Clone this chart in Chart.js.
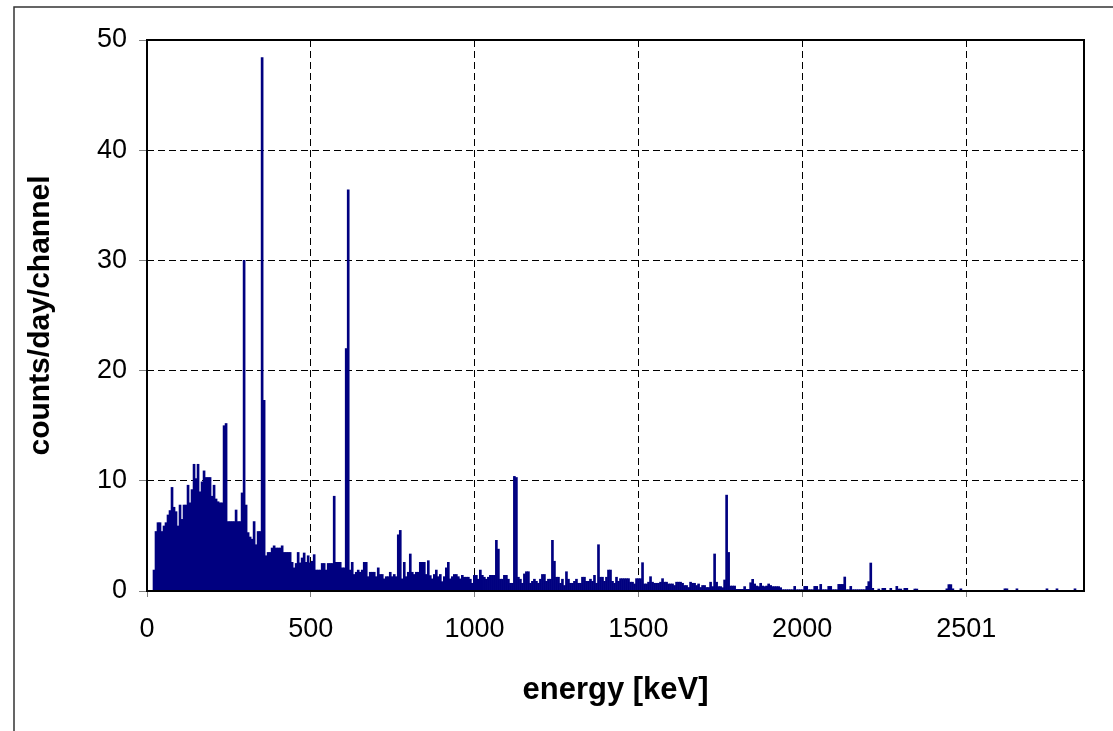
<!DOCTYPE html>
<html>
<head>
<meta charset="utf-8">
<script src="https://cdn.jsdelivr.net/npm/chart.js@4"></script>
<style>
html,body{margin:0;padding:0;background:#fff;}
#wrap{position:relative;width:1113px;height:731px;}
</style>
</head>
<body>
<div id="wrap"><canvas id="c" width="1113" height="731"></canvas></div>
<script>
// keV per channel
const channelWidthKeV = 6.112;

// counts/day/channel, one value per channel
const counts = [
  0,0,0,1.9,5.4,6.2,6.2,5.4,5.9,6.2, 6.9,7.3,9.4,7.6,7.2,5.9,7.8,6.5,7.8,7.8,
  9.6,8.0,9.2,11.5,10.2,11.5,9.0,9.9,10.9,10.3, 10.3,10.3,8.6,9.6,8.35,8.1,8.0,8.0,15.0,15.2,
  6.3,6.3,6.3,6.3,7.35,6.3,6.3,8.9,30.0,7.8, 5.3,4.9,4.7,6.3,4.2,5.4,5.4,48.4,17.3,3.2,
  3.5,3.5,3.9,4.1,3.9,3.9,3.9,4.1,3.5,3.5, 3.5,3.5,2.6,2.1,2.5,3.5,2.55,3.0,3.45,2.6,
  3.2,2.55,2.7,3.3,1.9,1.9,1.9,2.5,2.5,1.9, 2.5,2.5,2.5,8.6,2.6,2.6,2.6,2.1,2.1,22.0,
  36.4,1.9,2.6,1.5,1.7,1.9,1.7,1.9,2.6,2.6, 1.3,1.7,1.7,1.7,1.3,2.1,1.5,1.5,1.1,1.3,
  1.3,1.7,1.3,1.5,1.3,5.1,5.5,1.1,2.6,1.3, 1.7,3.36,1.7,1.5,1.7,1.7,2.6,2.6,2.6,1.5,
  2.75,1.4,1.1,1.5,1.9,1.3,1.5,0.85,1.3,2.1, 2.6,1.1,1.3,1.5,1.5,1.3,1.1,1.42,1.25,1.25,
  1.25,1.07,0.7,1.42,1.42,1.07,1.9,1.42,1.25,1.07, 1.25,1.42,1.42,1.42,4.6,3.8,1.07,1.07,1.42,1.42,
  1.07,0.7,0.7,10.4,10.3,1.25,1.07,0.7,1.55,1.75, 1.75,0.7,0.88,1.07,0.88,0.7,1.07,1.5,1.5,0.88,
  1.07,1.07,4.6,2.7,1.25,1.25,0.7,1.07,0.5,1.75, 1.07,0.7,0.7,0.88,1.07,0.7,0.7,1.25,1.25,0.88,
  0.88,1.07,0.88,1.42,0.7,4.2,1.25,1.25,0.88,1.25, 1.9,1.9,0.88,0.7,1.25,0.88,1.12,1.12,1.12,1.12,
  1.12,0.8,0.8,0.64,1.12,1.12,1.12,2.57,0.64,0.64, 0.8,1.3,0.8,0.7,0.7,0.7,0.8,1.12,0.8,0.8,
  0.64,0.64,0.64,0.5,0.8,0.8,0.8,0.7,0.5,0.5, 0.32,0.8,0.7,0.7,0.5,0.64,0.32,0.5,0.5,0.32,
  0.32,0.8,0.4,3.36,0.8,0.4,0.4,0.3,1.0,8.7, 3.5,0.45,0.45,0.45,0.15,0.15,0.15,0.15,0.4,0.15,
  0.15,0.75,1.06,0.64,0.45,0.4,0.7,0.45,0.4,0.45, 0.64,0.5,0.4,0.4,0.4,0.4,0.3,0.12,0.12,0.12,
  0.12,0.12,0.12,0.42,0.12,0.12,0.12,0.12,0.42,0.42, 0.12,0.12,0.12,0.42,0.42,0.12,0.6,0.12,0.12,0.12,
  0.42,0.42,0.12,0.12,0.12,0.6,0.6,0.6,1.27,0.12, 0.12,0.42,0.12,0.12,0.12,0.12,0.12,0.12,0.12,0.42,
  0.85,2.54,0.24,0,0,0.18,0,0.24,0.24,0, 0,0.24,0,0,0.42,0.18,0.18,0,0.24,0.24,
  0,0,0,0.18,0.18,0,0,0,0,0, 0,0,0,0,0,0,0,0,0,0.2,
  0.58,0.58,0.2,0,0,0,0.2,0,0,0, 0,0,0,0,0,0,0,0,0,0,
  0,0,0,0,0,0,0,0,0.2,0.2, 0,0,0,0,0.2,0,0,0,0,0,
  0,0,0,0,0,0,0,0,0,0.2, 0,0,0,0,0.2,0,0,0,0,0,
  0,0,0,0.2,0,0,0,0
];

// channel centre energies (keV)
const energies = counts.map((_, i) => (i + 0.5) * channelWidthKeV);

// axis tick labels
const xTickValues = [0, 500, 1000, 1500, 2000, 2501];
const yTickValues = [0, 10, 20, 30, 40, 50];

const framePlugin = {
  id: 'frame',
  beforeDraw(chart) {
    const c = chart.ctx;
    c.save();
    c.fillStyle = '#fff';
    c.fillRect(0, 0, chart.width, chart.height);
    c.strokeStyle = '#333';
    c.lineWidth = 1.5;
    c.beginPath();
    c.moveTo(14, chart.height);
    c.lineTo(14, 7);
    c.lineTo(chart.width, 7);
    c.stroke();
    c.restore();
  },
  afterDatasetsDraw(chart) {
    const a = chart.chartArea;
    const c = chart.ctx;
    c.save();
    c.strokeStyle = '#000';
    c.lineWidth = 2;
    c.strokeRect(a.left, a.top, a.right - a.left, a.bottom - a.top);
    c.restore();
  }
};

const FONT = 'Liberation Sans, Arial, sans-serif';

new Chart(document.getElementById('c').getContext('2d'), {
  type: 'bar',
  data: {
    datasets: [{
      data: energies.map((e, i) => ({ x: e, y: counts[i] })),
      backgroundColor: '#000080',
      borderWidth: 0,
      barPercentage: 1,
      categoryPercentage: 1
    }]
  },
  options: {
    responsive: false,
    animation: false,
    layout: { padding: { left: 0, top: 40, right: 29, bottom: 0 } },
    plugins: { legend: { display: false }, tooltip: { enabled: false } },
    scales: {
      x: {
        type: 'linear',
        min: 0,
        max: counts.length * channelWidthKeV,
        offset: false,
        afterBuildTicks: s => { s.ticks = xTickValues.map(v => ({ value: v })); },
        afterFit: s => { s.height = 140; },
        border: { display: false, dash: [7, 4] },
        grid: {
          offset: false, color: '#000', lineWidth: 1,
          drawTicks: true, tickLength: 6, tickColor: '#808080', tickBorderDash: [], tickWidth: 1
        },
        ticks: {
          color: '#000', font: { family: FONT, size: 27 }, padding: 16,
          maxRotation: 0, autoSkip: false, callback: v => String(v)
        },
        title: {
          display: true, text: 'energy [keV]', color: '#000',
          font: { family: FONT, size: 31, weight: 'bold' },
          padding: { top: 0, bottom: 22 }
        }
      },
      y: {
        min: 0,
        max: 50,
        afterBuildTicks: s => { s.ticks = yTickValues.map(v => ({ value: v })); },
        afterFit: s => { s.width = 147; },
        border: { display: false, dash: [7, 4] },
        grid: {
          color: '#000', lineWidth: 1,
          drawTicks: true, tickLength: 8, tickColor: '#808080', tickBorderDash: [], tickWidth: 1
        },
        ticks: {
          color: '#000', font: { family: FONT, size: 27 }, padding: 12,
          callback: v => String(v)
        },
        title: {
          display: true, text: 'counts/day/channel', color: '#000',
          font: { family: FONT, size: 30, weight: 'bold' },
          padding: { top: 23, bottom: 0 }
        }
      }
    }
  },
  plugins: [framePlugin]
});
</script>
</body>
</html>
